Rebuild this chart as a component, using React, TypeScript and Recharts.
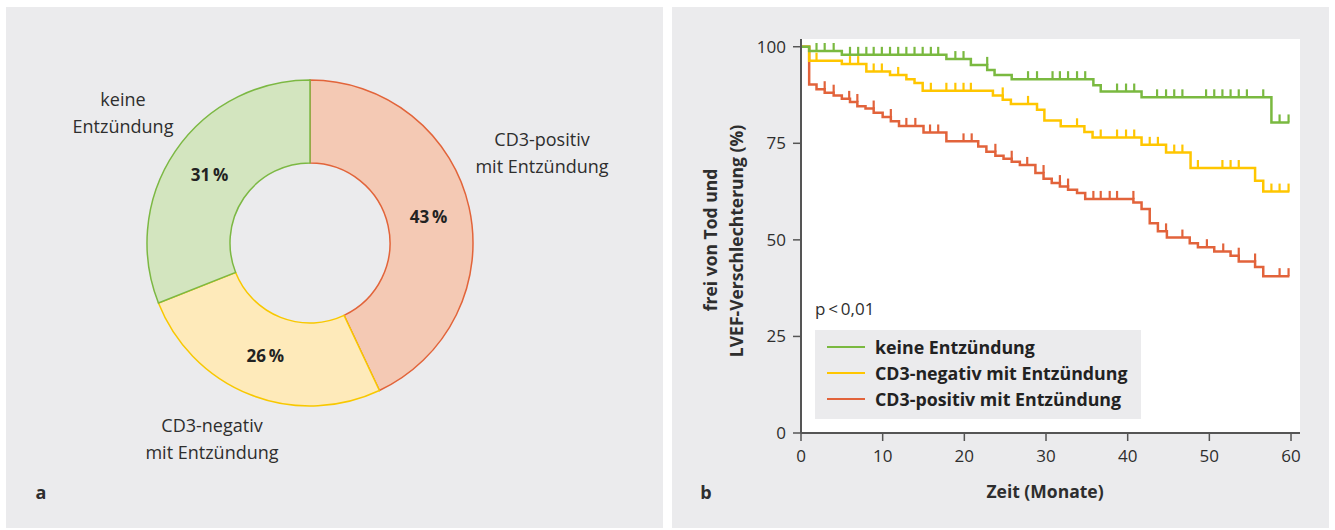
import React from 'react';
import {
  PieChart, Pie, Cell, ComposedChart, Line, Scatter, XAxis, YAxis, CartesianGrid,
} from 'recharts';

// ---------- Panel a: donut ----------
const categories = ['CD3-positiv mit Entzündung', 'CD3-negativ mit Entzündung', 'keine Entzündung'];
const shares = [43, 26, 31];
const categoryLines = [
  ['CD3-positiv', 'mit Entzündung'],
  ['CD3-negativ', 'mit Entzündung'],
  ['keine', 'Entzündung'],
];
const sliceFills = ['#f4c9b4', '#feeaba', '#d3e5bf'];
const sliceStrokes = ['#e2643a', '#f8c800', '#7cb843'];

// ---------- Panel b: Kaplan-Meier ----------
const seriesNames = ['keine Entzündung', 'CD3-negativ mit Entzündung', 'CD3-positiv mit Entzündung'];
const seriesColors = ['#7ab940', '#ffc600', '#e2633b'];

const greenSteps: [number, number][] = [
  [0, 100], [1, 98.9], [5, 97.9], [17.8, 96.8], [20.8, 95.3], [22.8, 94.0], [23.7, 92.7],
  [25.8, 91.6], [35.8, 90.0], [36.7, 88.4], [41.7, 86.9], [57.6, 80.4], [59.8, 80.4],
];
const greenCensor = [
  1.9, 2.9, 4.0, 6.0, 7.0, 8.0, 8.9, 9.9, 10.9, 11.9, 12.9, 13.9, 14.9, 15.9, 16.8, 18.9, 19.9,
  22.8, 27.8, 28.9, 30.8, 31.7, 32.7, 33.8, 34.8, 38.7, 39.8, 40.8, 43.6, 44.7, 45.7, 46.7,
  49.6, 50.6, 51.6, 52.6, 53.6, 54.6, 56.6, 58.6, 59.7,
];

const yellowSteps: [number, number][] = [
  [0, 100], [1, 96.4], [5, 95.5], [8, 93.6], [10.9, 92.7], [12.9, 91.6], [13.9, 90.6], [14.9, 88.6],
  [23.5, 87.4], [24.7, 86.3], [25.7, 85.2], [28.9, 83.7], [29.8, 80.9], [31.8, 79.4], [34.7, 77.9],
  [35.7, 76.5], [41.7, 74.6], [44.7, 72.6], [47.7, 68.6], [55.6, 65.3], [56.6, 62.5], [59.8, 62.5],
];
const yellowCensor = [
  1.9, 6.0, 7.0, 8.9, 9.9, 11.9, 15.9, 17.8, 18.9, 19.9, 20.8, 24.7, 27.8, 33.8, 36.7, 38.7,
  39.8, 40.8, 42.7, 43.7, 45.7, 46.7, 48.6, 51.6, 52.6, 53.6, 57.6, 58.6, 59.7,
];

const redSteps: [number, number][] = [
  [0, 100], [1, 90.2], [1.9, 89.0], [2.9, 88.1], [4.0, 87.4], [5.0, 86.5], [6.0, 85.7], [6.9, 84.6],
  [7.9, 84.0], [8.9, 82.9], [10.0, 81.8], [11.0, 80.7], [12.0, 79.5], [15.0, 77.8], [17.8, 75.5],
  [21.7, 74.2], [22.7, 72.8], [23.8, 71.8], [24.8, 71.0], [25.8, 70.2], [26.8, 69.4], [28.7, 67.3],
  [29.7, 65.8], [30.7, 64.7], [31.7, 63.8], [32.7, 63.0], [33.8, 62.1], [34.8, 60.6], [40.7, 59.7],
  [41.7, 58.0], [42.7, 54.3], [43.7, 52.2], [44.8, 50.6], [47.6, 49.1], [48.6, 48.1], [50.6, 47.0],
  [52.6, 45.9], [53.6, 44.4], [55.6, 43.0], [56.6, 40.6], [59.8, 40.6],
];
const redCensor = [
  2.9, 4.0, 5.9, 6.9, 8.9, 11.0, 12.9, 14.0, 15.8, 16.8, 19.9, 20.9, 23.8, 25.8, 27.7, 29.7,
  31.7, 32.7, 35.8, 36.7, 37.8, 38.7, 40.7, 44.7, 46.7, 49.7, 51.7, 53.6, 55.6, 58.6, 59.7,
];

const xTicks = [0, 10, 20, 30, 40, 50, 60];
const yTicks = [0, 25, 50, 75, 100];

// ---------- helpers ----------
const FONT = '"Open Sans", "Noto Sans", sans-serif';
const PANEL = '#ebebed';
const TEXT = '#2e2e2e';
const AXIS = '#555';

const toData = (steps: [number, number][]) => steps.map(([t, s]) => ({ t, s }));
const survivalAt = (steps: [number, number][], t: number) => {
  let s = steps[0][1];
  for (const [tt, ss] of steps) if (tt < t) s = ss;
  return s;
};
const censorData = (steps: [number, number][], times: number[]) =>
  times.map((t) => ({ t, s: survivalAt(steps, t) }));

const series = [
  { steps: greenSteps, censor: greenCensor },
  { steps: yellowSteps, censor: yellowCensor },
  { steps: redSteps, censor: redCensor },
];

const pieData = categories.map((name, i) => ({ name, value: shares[i] }));
const outerLabelPos: [number, number][] = [[542, 152], [212, 438], [123, 112]];

const renderPieLabel = (props: any) => {
  const { cx, cy, midAngle, innerRadius, outerRadius, index, value } = props;
  const r = (Number(innerRadius) + Number(outerRadius)) / 2;
  const a = (-midAngle * Math.PI) / 180;
  const x = cx + r * Math.cos(a);
  const y = cy + r * Math.sin(a);
  const [lx, ly] = outerLabelPos[index];
  const lines = categoryLines[index];
  return (
    <g>
      <text x={x} y={y} textAnchor="middle" dominantBaseline="central" fontWeight={700}
        fontSize={17} fill="#222" fontFamily={FONT}>
        {value}{'\u2009'}%
      </text>
      {lines.map((l, i) => (
        <text key={i} x={lx} y={ly + (i - (lines.length - 1) / 2) * 27} textAnchor="middle"
          dominantBaseline="central" fontSize={18} fill={TEXT} fontFamily={FONT}>
          {l}
        </text>
      ))}
    </g>
  );
};

const makeTick = (color: string) => (props: any) => {
  const { cx, cy } = props;
  if (cx == null || cy == null) return <g />;
  return <line x1={cx} y1={cy} x2={cx} y2={cy - 8} stroke={color} strokeWidth={2.2} />;
};

const abs = (x: number, y: number, extra: React.CSSProperties = {}): React.CSSProperties => ({
  position: 'absolute', left: x, top: y, transform: 'translate(-50%,-50%)',
  whiteSpace: 'nowrap', lineHeight: 1, ...extra,
});

export default function App() {
  const drawOrder = [2, 1, 0];
  return (
    <div style={{ position: 'absolute', left: 0, top: 0, width: 1335, height: 530, background: '#fff',
      fontFamily: FONT, overflow: 'hidden', color: TEXT }}>
      <div style={{ position: 'absolute', left: 6, top: 7, width: 657, height: 521, background: PANEL }} />
      <div style={{ position: 'absolute', left: 672, top: 7, width: 657, height: 521, background: PANEL }} />

      <div style={{ position: 'absolute', left: 0, top: 0 }}>
        <PieChart width={668} height={530} margin={{ top: 0, right: 0, bottom: 0, left: 0 }}>
          <Pie data={pieData} dataKey="value" nameKey="name" cx={310} cy={243}
            innerRadius={80} outerRadius={163} startAngle={90} endAngle={-270}
            isAnimationActive={false} label={renderPieLabel} labelLine={false}>
            {pieData.map((_, i) => (
              <Cell key={i} fill={sliceFills[i]} stroke={sliceStrokes[i]} strokeWidth={1.5} />
            ))}
          </Pie>
        </PieChart>
      </div>

      <div style={{ position: 'absolute', left: 0, top: 0 }}>
        <ComposedChart width={1335} height={530} margin={{ top: 39, right: 35, bottom: 57, left: 741 }}>
          <CartesianGrid fill="#fff" horizontal={false} vertical={false} stroke="none" />
          <XAxis dataKey="t" type="number" domain={[0, 61.1]} ticks={xTicks} allowDataOverflow
            height={40} tickSize={8} tickMargin={9}
            axisLine={{ stroke: AXIS, strokeWidth: 2 }} tickLine={{ stroke: AXIS, strokeWidth: 1.5 }}
            tick={{ fill: TEXT, fontSize: 17, fontFamily: FONT }} />
          <YAxis type="number" domain={[0, 102]} ticks={yTicks} allowDataOverflow width={60}
            tickSize={8} tickMargin={7}
            axisLine={{ stroke: AXIS, strokeWidth: 2 }} tickLine={{ stroke: AXIS, strokeWidth: 1.5 }}
            tick={{ fill: TEXT, fontSize: 17, fontFamily: FONT }} />
          {drawOrder.map((i) => (
            <Line key={'l' + i} data={toData(series[i].steps)} dataKey="s" type="stepAfter"
              stroke={seriesColors[i]} strokeWidth={2.5} dot={false} activeDot={false}
              isAnimationActive={false} />
          ))}
          {drawOrder.map((i) => (
            <Scatter key={'c' + i} data={censorData(series[i].steps, series[i].censor)} dataKey="s"
              shape={makeTick(seriesColors[i])} isAnimationActive={false} />
          ))}
        </ComposedChart>
      </div>

      {/* axis titles */}
      <div style={abs(711, 240, { transform: 'translate(-50%,-50%) rotate(-90deg)', fontWeight: 700, fontSize: 17.5 })}>
        frei von Tod und
      </div>
      <div style={abs(737, 241, { transform: 'translate(-50%,-50%) rotate(-90deg)', fontWeight: 700, fontSize: 17.5 })}>
        LVEF-Verschlechterung (%)
      </div>
      <div style={abs(1045, 492, { fontWeight: 700, fontSize: 17.5 })}>Zeit (Monate)</div>

      {/* p value */}
      <div style={{ position: 'absolute', left: 815, top: 300, fontSize: 17, lineHeight: 1, whiteSpace: 'nowrap' }}>
        p{'\u2009'}&lt;{'\u2009'}0,01
      </div>

      {/* legend */}
      <div style={{ position: 'absolute', left: 815, top: 330, width: 326, height: 89, background: PANEL }}>
        {seriesNames.map((n, i) => (
          <div key={n} style={{ position: 'absolute', left: 0, top: 17 + i * 26, height: 0 }}>
            <div style={{ position: 'absolute', left: 12, top: -1.25, width: 38, height: 2.5, background: seriesColors[i] }} />
            <div style={{ position: 'absolute', left: 60, top: -10, fontWeight: 700, fontSize: 17.8, lineHeight: '20px', whiteSpace: 'nowrap', color: '#222' }}>
              {n}
            </div>
          </div>
        ))}
      </div>

      {/* panel letters */}
      <div style={abs(41, 492, { fontWeight: 700, fontSize: 18 })}>a</div>
      <div style={abs(706, 492, { fontWeight: 700, fontSize: 18 })}>b</div>
    </div>
  );
}
